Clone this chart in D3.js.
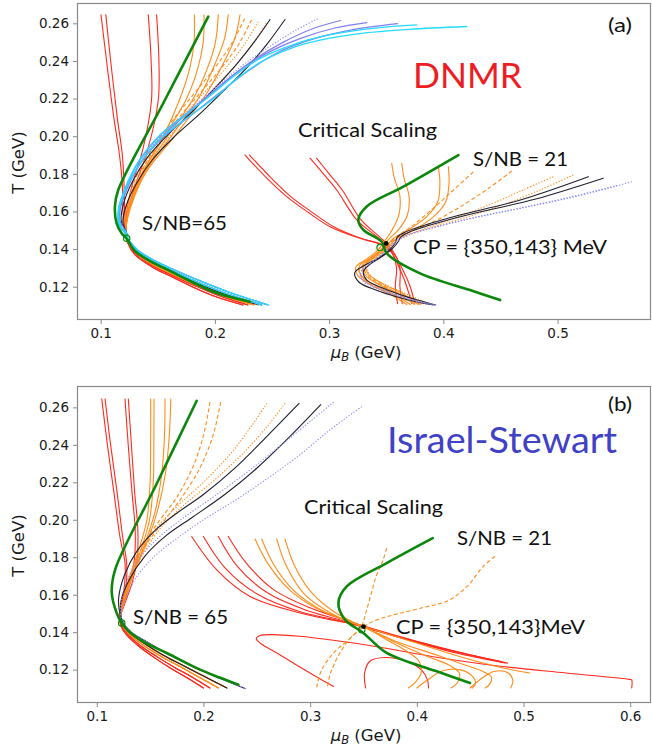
<!DOCTYPE html>
<html><head><meta charset="utf-8">
<script src="https://cdn.jsdelivr.net/npm/d3@7"></script>
<style>body{margin:0;background:#fff}svg{display:block}</style>
</head><body>
<svg id="chart" width="652" height="752"></svg>
<script>
// Trajectories in the (muB, T) plane, points are [muB GeV, T GeV].

const muTicksA = [0.1, 0.2, 0.3, 0.4, 0.5];
const muTicksB = [0.1, 0.2, 0.3, 0.4, 0.5, 0.6];
const tTicks = [0.12, 0.14, 0.16, 0.18, 0.20, 0.22, 0.24, 0.26];
const criticalPoint = [0.35, 0.143];
const dnmrCircles = [[0.1228, 0.1457], [0.3446, 0.1408]];
const isCircles = [[0.1234, 0.1449], [0.3484, 0.1413]];

// ---------- DNMR, S/NB = 65 family: shared low-T branches ----------
const tailRedA1 = [[0.1215,0.149],[0.1235,0.1435],[0.13,0.137],[0.145,0.1305],[0.158,0.1265],[0.18,0.12],[0.2016,0.1145],[0.2246,0.1103]];
const tailRedA2 = [[0.122,0.149],[0.124,0.1435],[0.131,0.1374],[0.146,0.131],[0.16,0.1268],[0.183,0.1204],[0.205,0.1149],[0.229,0.1103]];
const tailOrangeA1 = [[0.1222,0.149],[0.1242,0.1438],[0.1312,0.1379],[0.146,0.1316],[0.16,0.1276],[0.183,0.121],[0.206,0.1155],[0.234,0.1104]];
const tailOrangeA2 = [[0.1225,0.149],[0.1245,0.1441],[0.1318,0.1384],[0.147,0.1322],[0.161,0.1283],[0.185,0.1218],[0.208,0.1161],[0.238,0.1104]];
const tailBlackA = [[0.1222,0.1492],[0.1245,0.1447],[0.132,0.139],[0.147,0.1329],[0.16,0.1292],[0.184,0.1226],[0.208,0.1168],[0.241,0.1103]];
const tailCyanA = [[0.1205,0.1492],[0.1245,0.1449],[0.1325,0.1394],[0.148,0.1336],[0.16,0.1302],[0.185,0.1236],[0.21,0.1176],[0.2465,0.1103]];

const dnmrLeftRed = [
  [[0.1003,0.2645],[0.106,0.236],[0.1115,0.21],[0.1165,0.19],[0.119,0.174],[0.1195,0.161],[0.1205,0.1535], ...tailRedA1],
  [[0.1045,0.2645],[0.1095,0.236],[0.1145,0.21],[0.119,0.19],[0.1205,0.174],[0.121,0.161],[0.1215,0.1535], ...tailRedA2],
  [[0.1417,0.2645],[0.1442,0.24],[0.1445,0.219],[0.1368,0.1927],[0.128,0.175],[0.1235,0.163],[0.1215,0.154], ...tailRedA1],
  [[0.149,0.2645],[0.151,0.24],[0.1504,0.219],[0.1411,0.1927],[0.131,0.175],[0.125,0.163],[0.122,0.154], ...tailRedA2]
];
const dnmrLeftOrange = [
  [[0.182,0.2645],[0.1818,0.25],[0.178,0.236],[0.1695,0.22],[0.155,0.2],[0.137,0.181],[0.1275,0.167],[0.123,0.156], ...tailOrangeA1],
  [[0.1905,0.2645],[0.1898,0.25],[0.1855,0.237],[0.176,0.221],[0.156,0.2],[0.136,0.18],[0.127,0.167],[0.1228,0.156], ...tailOrangeA2],
  [[0.203,0.2645],[0.2005,0.25],[0.194,0.237],[0.182,0.221],[0.16,0.201],[0.138,0.181],[0.128,0.167],[0.123,0.156], ...tailOrangeA1],
  [[0.2117,0.2645],[0.2085,0.252],[0.2005,0.239],[0.1875,0.222],[0.163,0.201],[0.139,0.181],[0.1285,0.167],[0.1232,0.156], ...tailOrangeA2],
  [[0.222,0.2645],[0.2175,0.252],[0.2085,0.24],[0.193,0.223],[0.166,0.201],[0.14,0.181],[0.129,0.167],[0.1235,0.156], ...tailOrangeA1]
];
const dnmrLeftOrangeDashed = [
  [[0.226,0.2625],[0.2155,0.25],[0.202,0.238],[0.185,0.225],[0.165,0.21],[0.148,0.196],[0.134,0.182],[0.1255,0.169],[0.1215,0.158], ...tailOrangeA2],
  [[0.232,0.2618],[0.222,0.25],[0.208,0.238],[0.19,0.225],[0.17,0.211],[0.152,0.197],[0.137,0.183],[0.127,0.17],[0.122,0.159], ...tailOrangeA1]
];
const dnmrLeftOrangeDotted = [
  [[0.238,0.2608],[0.226,0.249],[0.212,0.238],[0.195,0.226],[0.174,0.212],[0.155,0.1985],[0.139,0.1845],[0.128,0.1715],[0.122,0.16], ...tailOrangeA2],
  [[0.245,0.26],[0.233,0.249],[0.218,0.2375],[0.2,0.226],[0.179,0.2125],[0.159,0.199],[0.142,0.185],[0.13,0.172],[0.1228,0.16], ...tailOrangeA1]
];
const dnmrLeftBlack = [
  [[0.2483,0.262],[0.235,0.2505],[0.22,0.239],[0.2,0.2255],[0.18,0.213],[0.16,0.2015],[0.142,0.1895],[0.128,0.176],[0.12,0.164],[0.118,0.155], ...tailBlackA],
  [[0.2614,0.262],[0.247,0.25],[0.232,0.239],[0.21,0.2255],[0.188,0.2125],[0.165,0.2],[0.146,0.188],[0.131,0.1745],[0.122,0.1625],[0.1195,0.154], ...tailOrangeA2]
];
const dnmrLeftBlue = [
  [[0.333,0.2604],[0.305,0.2575],[0.275,0.252],[0.25,0.2455],[0.225,0.2365],[0.2,0.2245],[0.176,0.2125],[0.152,0.2005],[0.134,0.187],[0.122,0.173],[0.1158,0.1615],[0.1168,0.152], ...tailCyanA],
  [[0.31,0.2615],[0.285,0.257],[0.26,0.25],[0.235,0.241],[0.21,0.2295],[0.185,0.2165],[0.16,0.2035],[0.14,0.1905],[0.126,0.177],[0.118,0.165],[0.1162,0.156], ...tailBlackA],
  [[0.36,0.2598],[0.32,0.2565],[0.285,0.2515],[0.255,0.2445],[0.23,0.235],[0.205,0.2235],[0.18,0.2115],[0.155,0.1995],[0.136,0.1865],[0.1235,0.1725],[0.117,0.161],[0.1172,0.1525], ...tailCyanA]
];
const dnmrLeftBlueDotted = [
  [[0.29,0.2625],[0.27,0.256],[0.25,0.2485],[0.225,0.238],[0.2,0.2255],[0.175,0.2125],[0.152,0.1995],[0.135,0.186],[0.1235,0.1725],[0.1175,0.161],[0.118,0.1525], ...tailBlackA]
];
const dnmrLeftCyan = [
  [[0.4205,0.2583],[0.37,0.2568],[0.33,0.2548],[0.3007,0.2521],[0.27,0.2475],[0.2424,0.2402],[0.22,0.231],[0.1986,0.2198],[0.175,0.2095],[0.152,0.1985],[0.135,0.186],[0.123,0.173],[0.1165,0.162],[0.117,0.153], ...tailCyanA],
  [[0.3767,0.2592],[0.34,0.2575],[0.3,0.2538],[0.27,0.249],[0.24,0.2415],[0.218,0.2325],[0.196,0.2215],[0.173,0.2108],[0.15,0.1995],[0.133,0.1865],[0.1215,0.1725],[0.1155,0.161],[0.1165,0.152], ...tailBlackA]
];
const dnmrLeftGreen = [
  [[0.1942,0.2636],[0.1548,0.2175],[0.1154,0.1714],[0.1125,0.1626],[0.114,0.1537],[0.1184,0.1484],[0.1228,0.1455],[0.13,0.139],[0.145,0.133],[0.158,0.1292],[0.18,0.1225],[0.2016,0.1166],[0.2307,0.112]]
];

// ---------- DNMR, S/NB = 21 family through the critical point ----------
const dnmrRightRed = [
  [[0.2264,0.19],[0.245,0.178],[0.2629,0.1679],[0.283,0.159],[0.3008,0.1519],[0.3271,0.1457],[0.345,0.1425],[0.355,0.138],[0.359,0.13],[0.358,0.12],[0.36,0.111]],
  [[0.2303,0.19],[0.249,0.178],[0.2665,0.1679],[0.2865,0.159],[0.304,0.1519],[0.329,0.1455],[0.347,0.1423],[0.357,0.1375],[0.362,0.13],[0.362,0.12],[0.364,0.111]],
  [[0.2833,0.1883],[0.295,0.18],[0.3067,0.1714],[0.3242,0.1555],[0.3417,0.1466],[0.352,0.141],[0.3636,0.1271],[0.368,0.12],[0.3723,0.1112]],
  [[0.289,0.1883],[0.3,0.18],[0.3115,0.1714],[0.328,0.1555],[0.344,0.1466],[0.354,0.1405],[0.366,0.1271],[0.371,0.12],[0.375,0.1112]]
];
const dnmrRightOrange = [
  [[0.3548,0.1856],[0.357,0.178],[0.362,0.168],[0.361,0.158],[0.355,0.15],[0.349,0.1445],[0.342,0.139],[0.331,0.134],[0.3235,0.1305],[0.325,0.126],[0.338,0.1205],[0.355,0.1155],[0.368,0.1105]],
  [[0.3636,0.1856],[0.3655,0.178],[0.37,0.168],[0.3685,0.158],[0.361,0.1505],[0.352,0.145],[0.345,0.1395],[0.334,0.1345],[0.3265,0.131],[0.328,0.126],[0.341,0.1205],[0.358,0.1155],[0.371,0.1105]],
  [[0.3956,0.1838],[0.397,0.175],[0.395,0.165],[0.385,0.157],[0.37,0.1505],[0.356,0.1455],[0.348,0.14],[0.337,0.135],[0.3295,0.1315],[0.331,0.1265],[0.344,0.121],[0.361,0.116],[0.375,0.1105]],
  [[0.4044,0.1838],[0.405,0.175],[0.402,0.165],[0.391,0.157],[0.375,0.1505],[0.359,0.1455],[0.35,0.14],[0.34,0.1355],[0.332,0.132],[0.334,0.127],[0.347,0.1215],[0.364,0.1165],[0.378,0.1105]]
];
const dnmrRightOrangeDashed = [
  [[0.4263,0.181],[0.41,0.172],[0.39,0.161],[0.372,0.152],[0.36,0.147],[0.352,0.1425],[0.343,0.138],[0.333,0.133],[0.326,0.129],[0.33,0.124],[0.345,0.1185],[0.365,0.1135],[0.381,0.1105]],
  [[0.46,0.1815],[0.44,0.1725],[0.415,0.1625],[0.393,0.155],[0.372,0.1495],[0.358,0.1455],[0.349,0.1405],[0.338,0.1355],[0.33,0.1315],[0.333,0.1265],[0.348,0.1205],[0.368,0.1145],[0.385,0.1105]]
];
const dnmrRightOrangeDotted = [
  [[0.4963,0.1785],[0.47,0.1715],[0.44,0.1635],[0.41,0.1565],[0.385,0.151],[0.366,0.147],[0.355,0.1425],[0.346,0.1375],[0.336,0.1335],[0.3305,0.1295],[0.336,0.1245],[0.352,0.119],[0.371,0.114],[0.387,0.1105]],
  [[0.5138,0.1794],[0.485,0.1715],[0.45,0.163],[0.418,0.1565],[0.39,0.1515],[0.37,0.1475],[0.358,0.1435],[0.349,0.138],[0.339,0.134],[0.333,0.13],[0.338,0.125],[0.355,0.1195],[0.374,0.1145],[0.389,0.1105]]
];
const dnmrRightBlack = [
  [[0.527,0.1785],[0.4667,0.166],[0.4088,0.1572],[0.3796,0.1519],[0.366,0.1488],[0.36,0.1465],[0.3575,0.143],[0.352,0.139],[0.341,0.1345],[0.33,0.131],[0.3225,0.1275],[0.326,0.1225],[0.342,0.118],[0.36,0.1145],[0.376,0.112],[0.3913,0.1103]],
  [[0.54,0.1777],[0.48,0.1665],[0.42,0.158],[0.387,0.1525],[0.37,0.149],[0.363,0.1465],[0.36,0.1435],[0.355,0.14],[0.345,0.1355],[0.336,0.132],[0.33,0.128],[0.333,0.1235],[0.348,0.119],[0.366,0.115],[0.38,0.1125],[0.393,0.1103]]
];
const dnmrRightBlueDotted = [
  [[0.565,0.1758],[0.52,0.1685],[0.47,0.162],[0.43,0.157],[0.395,0.152],[0.372,0.148],[0.36,0.1445],[0.352,0.14],[0.343,0.1355],[0.334,0.1315],[0.328,0.1275],[0.331,0.123],[0.346,0.1185],[0.364,0.1148],[0.38,0.112],[0.394,0.1103]],
  [[0.552,0.1738],[0.51,0.1675],[0.465,0.1615],[0.425,0.1565],[0.392,0.1515],[0.37,0.1478],[0.359,0.1442],[0.351,0.1398],[0.342,0.1352],[0.333,0.1312],[0.327,0.1272],[0.33,0.1228],[0.345,0.1183],[0.363,0.1146],[0.379,0.1118],[0.392,0.1103]]
];
const dnmrRightGreen = [
  [[0.4132,0.19],[0.365,0.1732],[0.3329,0.1626],[0.3256,0.1555],[0.33,0.1502],[0.3461,0.1439],[0.3505,0.1377],[0.3796,0.1271],[0.4234,0.1182],[0.4497,0.1129]]
];

// ---------- Israel-Stewart, S/NB = 65 family ----------
const tailRedB1 = [[0.1215,0.148],[0.123,0.143],[0.128,0.1385],[0.14,0.1322],[0.155,0.126],[0.17,0.1205],[0.185,0.1155],[0.2,0.1102]];
const tailRedB2 = [[0.122,0.148],[0.1235,0.1435],[0.129,0.139],[0.141,0.1328],[0.157,0.1267],[0.173,0.1212],[0.19,0.1158],[0.206,0.1102]];
const tailOrangeB1 = [[0.1222,0.148],[0.124,0.1438],[0.13,0.1392],[0.143,0.1333],[0.16,0.1272],[0.178,0.1217],[0.196,0.116],[0.214,0.1102]];
const tailOrangeB2 = [[0.1225,0.148],[0.1245,0.1442],[0.131,0.1396],[0.145,0.1338],[0.162,0.1278],[0.181,0.1222],[0.2,0.1166],[0.222,0.1102]];
const tailBlackB = [[0.1225,0.1485],[0.125,0.1449],[0.132,0.1402],[0.148,0.1345],[0.1656,0.1287],[0.19,0.1217],[0.215,0.1156],[0.239,0.1099]];

const isLeftRed = [
  [[0.1047,0.2645],[0.11,0.24],[0.116,0.215],[0.122,0.19],[0.1265,0.1769],[0.126,0.165],[0.123,0.155], ...tailRedB1],
  [[0.1078,0.2645],[0.113,0.24],[0.119,0.215],[0.1245,0.19],[0.128,0.177],[0.1275,0.165],[0.1235,0.155], ...tailRedB2],
  [[0.1265,0.2645],[0.1295,0.24],[0.133,0.215],[0.136,0.195],[0.1355,0.18],[0.131,0.166],[0.125,0.154], ...tailRedB1],
  [[0.1296,0.2645],[0.1325,0.24],[0.1355,0.215],[0.1385,0.195],[0.138,0.18],[0.133,0.166],[0.1255,0.154], ...tailRedB2]
];
const isLeftOrange = [
  [[0.1506,0.2645],[0.1505,0.24],[0.15,0.22],[0.147,0.2],[0.14,0.185],[0.131,0.17],[0.125,0.157], ...tailOrangeB1],
  [[0.1537,0.2645],[0.1535,0.24],[0.153,0.22],[0.1495,0.2],[0.142,0.185],[0.132,0.17],[0.1255,0.157], ...tailOrangeB2],
  [[0.164,0.2645],[0.1635,0.245],[0.161,0.225],[0.155,0.205],[0.145,0.187],[0.134,0.171],[0.126,0.157], ...tailOrangeB1],
  [[0.1694,0.2645],[0.168,0.245],[0.1645,0.225],[0.157,0.205],[0.147,0.188],[0.135,0.172],[0.1265,0.157], ...tailOrangeB2]
];
const isLeftOrangeDashed = [
  [[0.2062,0.2628],[0.2,0.245],[0.19,0.228],[0.175,0.212],[0.1593,0.2],[0.145,0.188],[0.133,0.173],[0.126,0.16], ...tailOrangeB1],
  [[0.2162,0.2628],[0.209,0.245],[0.197,0.228],[0.181,0.213],[0.164,0.2],[0.148,0.188],[0.135,0.173],[0.127,0.16], ...tailOrangeB2]
];
const isLeftOrangeDotted = [
  [[0.2593,0.2622],[0.245,0.25],[0.225,0.235],[0.2,0.22],[0.175,0.207],[0.155,0.195],[0.139,0.18],[0.128,0.165],[0.124,0.153], ...tailOrangeB2],
  [[0.2765,0.2622],[0.26,0.25],[0.238,0.236],[0.21,0.221],[0.182,0.208],[0.159,0.195],[0.142,0.18],[0.13,0.165],[0.1245,0.153], ...tailBlackB]
];
const isLeftBlack = [
  [[0.2896,0.2621],[0.26,0.2448],[0.23,0.2278],[0.2,0.2135],[0.175,0.2035],[0.155,0.1945],[0.138,0.1835],[0.126,0.1705],[0.1205,0.158],[0.1215,0.1505], ...tailBlackB],
  [[0.31,0.2614],[0.28,0.2438],[0.25,0.2275],[0.22,0.2135],[0.19,0.2015],[0.165,0.1915],[0.145,0.1805],[0.13,0.1675],[0.1225,0.156],[0.1225,0.149], ...tailOrangeB2]
];
const isLeftBlueDotted = [
  [[0.3484,0.2604],[0.3187,0.248],[0.29,0.2345],[0.26,0.222],[0.23,0.2105],[0.2,0.2],[0.175,0.19],[0.155,0.181],[0.138,0.17],[0.127,0.158],[0.1225,0.15], ...tailBlackB],
  [[0.322,0.2628],[0.3,0.2525],[0.27,0.2385],[0.24,0.225],[0.21,0.2125],[0.18,0.2005],[0.158,0.1905],[0.14,0.1795],[0.128,0.167],[0.1225,0.155], ...tailBlackB]
];
const isLeftGreen = [
  [[0.1937,0.2635],[0.1555,0.2184],[0.1172,0.1733],[0.1141,0.1609],[0.1187,0.1502],[0.1234,0.1449],[0.13,0.1405],[0.145,0.1345],[0.1656,0.1289],[0.1968,0.12],[0.215,0.1158],[0.2327,0.112]]
];

// ---------- Israel-Stewart, S/NB = 21 family ----------
const isRightRed = [
  [[0.189,0.1911],[0.2125,0.1733],[0.2437,0.1591],[0.2906,0.1502],[0.3187,0.1467],[0.34,0.1445],[0.36,0.141],[0.4,0.1345],[0.44,0.1285],[0.4827,0.1236]],
  [[0.2,0.1911],[0.22,0.1745],[0.25,0.1605],[0.29,0.151],[0.32,0.147],[0.345,0.1435],[0.38,0.138],[0.43,0.1305],[0.478,0.1245]],
  [[0.214,0.1911],[0.232,0.175],[0.26,0.161],[0.295,0.152],[0.325,0.147],[0.35,0.143],[0.39,0.1362],[0.44,0.129],[0.48,0.124]],
  [[0.2233,0.1911],[0.24,0.177],[0.265,0.163],[0.3,0.153],[0.33,0.147],[0.355,0.1425],[0.4,0.1352],[0.45,0.128],[0.485,0.1235]],
  [[0.6014,0.1102],[0.6014,0.1145],[0.5995,0.1148],[0.54,0.1182],[0.4784,0.1218],[0.42,0.1265],[0.36,0.1325],[0.32,0.1358],[0.29,0.1378],[0.265,0.1387],[0.2531,0.1382],[0.2495,0.1365],[0.254,0.1338],[0.27,0.1285],[0.29,0.1215],[0.307,0.1158],[0.322,0.111]],
  [[0.352,0.1102],[0.351,0.118],[0.356,0.1245],[0.37,0.1265],[0.39,0.1245],[0.405,0.1195],[0.41,0.1145],[0.411,0.1102]]
];
const isRightOrange = [
  [[0.2484,0.1897],[0.26,0.177],[0.28,0.163],[0.305,0.153],[0.33,0.147],[0.35,0.143],[0.39,0.136],[0.44,0.127],[0.48,0.121],[0.506,0.1182]],
  [[0.2546,0.1897],[0.266,0.176],[0.285,0.162],[0.31,0.152],[0.335,0.146],[0.352,0.1425],[0.37,0.1365],[0.39,0.13],[0.402,0.1245],[0.404,0.118],[0.398,0.113],[0.392,0.1102]],
  [[0.2687,0.1897],[0.278,0.175],[0.295,0.16],[0.32,0.15],[0.34,0.145],[0.353,0.142],[0.38,0.1345],[0.41,0.127],[0.43,0.1225],[0.44,0.118],[0.438,0.113],[0.432,0.1102]],
  [[0.2765,0.1897],[0.285,0.176],[0.3,0.162],[0.322,0.151],[0.34,0.1455],[0.354,0.1418],[0.38,0.1352],[0.42,0.1275],[0.445,0.1225],[0.46,0.1195],[0.47,0.116],[0.468,0.112],[0.464,0.1102]],
  [[0.4,0.1102],[0.41,0.1145],[0.425,0.1195],[0.44,0.12],[0.452,0.1165],[0.455,0.1125],[0.452,0.1102]],
  [[0.45,0.1102],[0.46,0.115],[0.472,0.119],[0.485,0.1185],[0.49,0.114],[0.488,0.1102]]
];
const isRightOrangeDashed = [
  [[0.3718,0.1849],[0.368,0.178],[0.362,0.17],[0.357,0.16],[0.352,0.15],[0.348,0.143],[0.336,0.136],[0.322,0.129],[0.311,0.12],[0.307,0.113],[0.306,0.109]],
  [[0.4733,0.1804],[0.462,0.175],[0.448,0.165],[0.43,0.157],[0.405,0.153],[0.38,0.1495],[0.36,0.146],[0.348,0.142],[0.338,0.137],[0.327,0.128],[0.319,0.118],[0.316,0.11]]
];
const isRightGreen = [
  [[0.4149,0.1902],[0.3718,0.1769],[0.3343,0.1644],[0.3265,0.1556],[0.3327,0.1467],[0.3499,0.1396],[0.3718,0.1289],[0.4187,0.1191],[0.4499,0.1129]]
];

// ---------- drawing ----------
const COL = {
  red: "#ff2a1e", orange: "#ff8c1a", black: "#1f1f2e",
  blue: "#7f7ff2", blueDot: "#8c8cff", cyan: "#22dcff", green: "#0b870b"
};
const svg = d3.select("#chart");
const curve = d3.curveCatmullRom.alpha(0.5);

function drawPanel(cfg) {
  const x = d3.scaleLinear().domain(cfg.xDomain).range([cfg.left, cfg.right]);
  const y = d3.scaleLinear().domain(cfg.yDomain).range([cfg.bottom, cfg.top]);
  const g = svg.append("g");
  const clipId = "clip-" + cfg.id;
  g.append("clipPath").attr("id", clipId).append("rect")
    .attr("x", cfg.left).attr("y", cfg.top)
    .attr("width", cfg.right - cfg.left).attr("height", cfg.bottom - cfg.top);

  const plot = g.append("g").attr("clip-path", `url(#${clipId})`);
  const line = d3.line().x(d => x(d[0])).y(d => y(d[1])).curve(curve);

  cfg.series.forEach(s => {
    plot.append("g").selectAll("path").data(s.data).join("path")
      .attr("d", line)
      .attr("fill", "none")
      .attr("stroke", s.color)
      .attr("stroke-width", s.width)
      .attr("stroke-dasharray", s.dash || null)
      .attr("stroke-linejoin", "round")
      .attr("stroke-linecap", s.dash ? "butt" : "round");
  });

  plot.selectAll("circle.ring").data(cfg.circles).join("circle")
    .attr("class", "ring")
    .attr("cx", d => x(d[0])).attr("cy", d => y(d[1])).attr("r", 3.2)
    .attr("fill", "none").attr("stroke", COL.green).attr("stroke-width", 1.2);
  plot.append("circle")
    .attr("cx", x(criticalPoint[0])).attr("cy", y(criticalPoint[1])).attr("r", 2.4)
    .attr("fill", "#000");

  // frame
  g.append("rect").attr("x", cfg.left + 0.5).attr("y", cfg.top + 0.5)
    .attr("width", cfg.right - cfg.left - 1).attr("height", cfg.bottom - cfg.top - 1)
    .attr("fill", "none").attr("stroke", "#8a8a8a").attr("stroke-width", 1.2);

  const xAxis = g.append("g").attr("transform", `translate(0,${cfg.bottom})`)
    .call(d3.axisBottom(x).tickValues(cfg.xTicks).tickSize(4).tickPadding(4).tickFormat(d3.format(".1f")));
  const yAxis = g.append("g").attr("transform", `translate(${cfg.left},0)`)
    .call(d3.axisLeft(y).tickValues(tTicks).tickSize(4).tickPadding(4).tickFormat(d3.format(".2f")));
  [xAxis, yAxis].forEach(a => {
    a.select(".domain").remove();
    a.selectAll(".tick line").attr("stroke", "#8a8a8a");
    a.selectAll(".tick text").attr("font-family", "DejaVu Sans").attr("font-size", 13.5).attr("fill", "#1a1a1a");
  });

  // axis titles
  g.append("text")
    .attr("transform", `translate(24,${(cfg.top + cfg.bottom) / 2 + 1}) rotate(-90)`)
    .attr("text-anchor", "middle").attr("font-family", "DejaVu Sans").attr("font-size", 16.5).attr("fill", "#1a1a1a")
    .text("T (GeV)");
  const xt = g.append("text")
    .attr("x", (cfg.left + cfg.right) / 2 + 2).attr("y", cfg.bottom + 38)
    .attr("text-anchor", "middle").attr("font-family", "DejaVu Sans").attr("font-size", 16.5).attr("fill", "#1a1a1a");
  xt.append("tspan").attr("font-style", "italic").text("μ");
  xt.append("tspan").attr("font-style", "italic").attr("font-size", 11.5).attr("dy", 3).text("B");
  xt.append("tspan").attr("dy", -3).text(" (GeV)");

  cfg.labels.forEach(l => {
    g.append("text").attr("x", l.x).attr("y", l.y)
      .attr("font-family", "Lato, 'Open Sans', sans-serif").attr("font-size", l.size)
      .attr("fill", l.color || "#111")
      .attr("textLength", l.w).attr("lengthAdjust", "spacingAndGlyphs")
      .text(l.text);
  });
}

drawPanel({
  id: "a", left: 77, right: 651, top: 3, bottom: 320,
  xDomain: [0.0793, 0.5818], yDomain: [0.1023, 0.2708], xTicks: muTicksA,
  circles: dnmrCircles,
  series: [
    { data: dnmrLeftRed, color: COL.red, width: 1.1 },
    { data: dnmrRightRed, color: COL.red, width: 1.1 },
    { data: dnmrLeftOrange, color: COL.orange, width: 1.1 },
    { data: dnmrRightOrange, color: COL.orange, width: 1.1 },
    { data: dnmrLeftOrangeDashed, color: COL.orange, width: 1.1, dash: "4,2.5" },
    { data: dnmrRightOrangeDashed, color: COL.orange, width: 1.1, dash: "4,2.5" },
    { data: dnmrLeftOrangeDotted, color: COL.orange, width: 1.1, dash: "1.3,1.7" },
    { data: dnmrRightOrangeDotted, color: COL.orange, width: 1.1, dash: "1.3,1.7" },
    { data: dnmrLeftBlack, color: COL.black, width: 1.1 },
    { data: dnmrRightBlack, color: COL.black, width: 1.1 },
    { data: dnmrLeftBlueDotted, color: COL.blueDot, width: 1.1, dash: "1.3,1.7" },
    { data: dnmrRightBlueDotted, color: COL.blueDot, width: 1.1, dash: "1.3,1.7" },
    { data: dnmrLeftBlue, color: COL.blue, width: 1.2 },
    { data: dnmrLeftCyan, color: COL.cyan, width: 1.3 },
    { data: dnmrLeftGreen, color: COL.green, width: 2.6 },
    { data: dnmrRightGreen, color: COL.green, width: 2.6 }
  ],
  labels: [
    { text: "(a)", x: 608, y: 32, size: 19, w: 24 },
    { text: "DNMR", x: 413, y: 88, size: 35, w: 109, color: "#ee1d23" },
    { text: "Critical Scaling", x: 298, y: 137, size: 18.5, w: 139 },
    { text: "S/NB = 21", x: 473, y: 166, size: 18.5, w: 95 },
    { text: "CP = {350,143} MeV", x: 413, y: 254, size: 19.5, w: 194 },
    { text: "S/NB=65", x: 142, y: 230, size: 18.5, w: 85 }
  ]
});

drawPanel({
  id: "b", left: 77, right: 651, top: 386, bottom: 703,
  xDomain: [0.0815, 0.6195], yDomain: [0.1022, 0.2714], xTicks: muTicksB,
  circles: isCircles,
  series: [
    { data: isLeftRed, color: COL.red, width: 1.1 },
    { data: isRightRed, color: COL.red, width: 1.1 },
    { data: isLeftOrange, color: COL.orange, width: 1.1 },
    { data: isRightOrange, color: COL.orange, width: 1.1 },
    { data: isLeftOrangeDashed, color: COL.orange, width: 1.1, dash: "4,2.5" },
    { data: isRightOrangeDashed, color: COL.orange, width: 1.1, dash: "4,2.5" },
    { data: isLeftOrangeDotted, color: COL.orange, width: 1.1, dash: "1.3,1.7" },
    { data: isLeftBlack, color: COL.black, width: 1.1 },
    { data: isLeftBlueDotted, color: COL.blueDot, width: 1.1, dash: "1.3,1.7" },
    { data: isLeftGreen, color: COL.green, width: 2.6 },
    { data: isRightGreen, color: COL.green, width: 2.6 }
  ],
  labels: [
    { text: "(b)", x: 608, y: 411, size: 19, w: 24 },
    { text: "Israel-Stewart", x: 387, y: 453, size: 37, w: 230, color: "#4141c8" },
    { text: "Critical Scaling", x: 304, y: 514, size: 18.5, w: 139 },
    { text: "S/NB = 21", x: 457, y: 545, size: 18.5, w: 95 },
    { text: "CP = {350,143}MeV", x: 396, y: 634, size: 19.5, w: 189 },
    { text: "S/NB = 65", x: 133, y: 624, size: 18.5, w: 95 }
  ]
});
</script>
</body></html>
